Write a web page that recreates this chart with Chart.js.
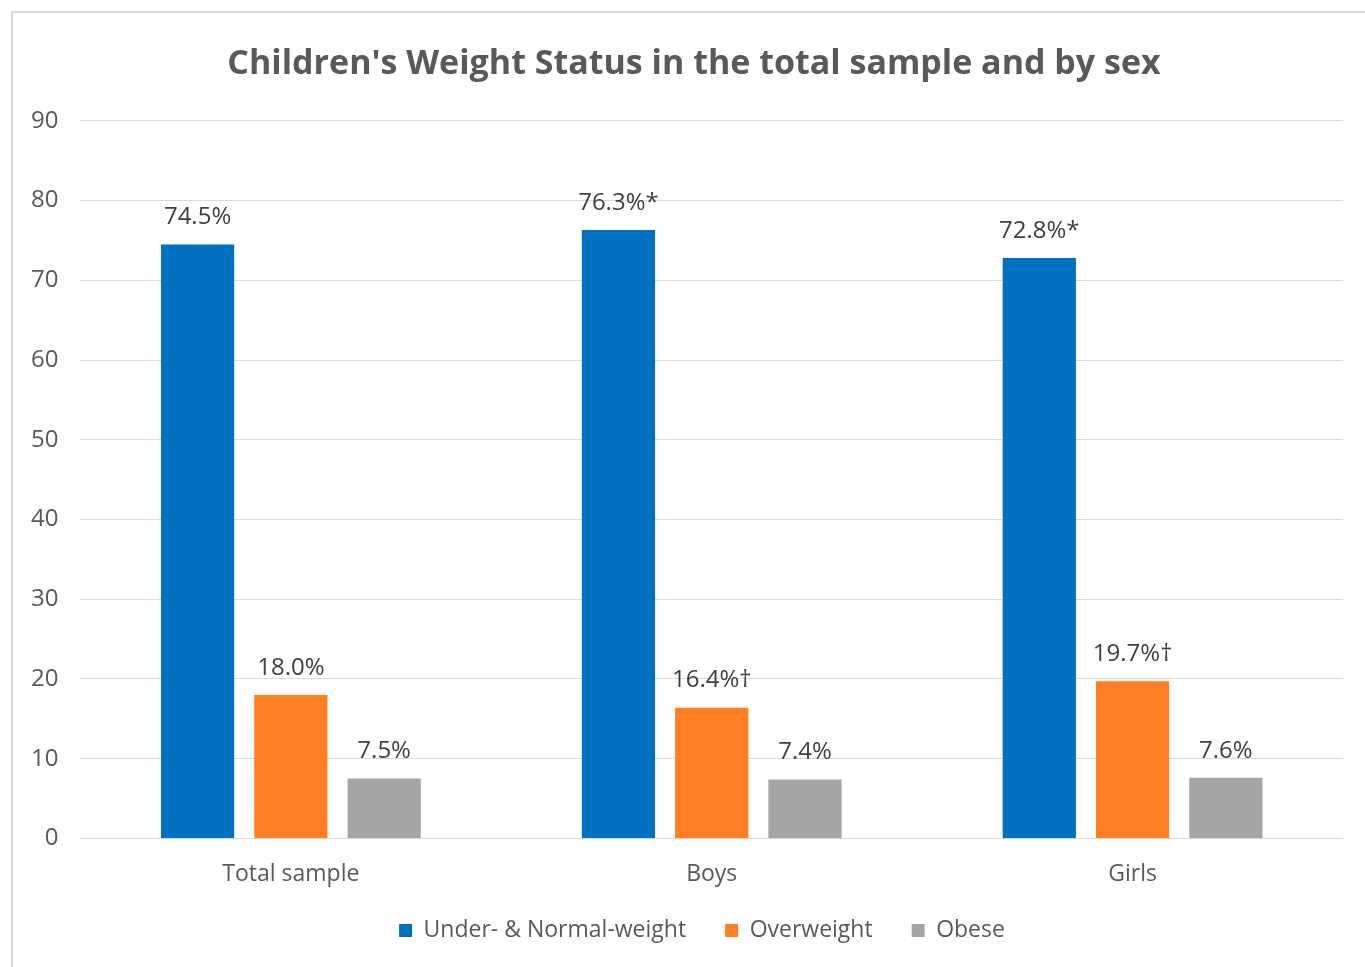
<!DOCTYPE html>
<html lang="en">
<head>
    <meta charset="UTF-8">
    <title>Children's Weight Status</title>
    <style>
        body {
            margin: 0;
            width: 1365px;
            height: 967px;
            overflow: hidden;
            background: #fff;
            font-family: "Open Sans", sans-serif;
        }
        #frame {
            position: absolute;
            left: 11px;
            top: 11px;
            width: 1400px;
            height: 1000px;
            border: 2px solid #d9d9d9;
        }
        #wrap {
            position: absolute;
            left: 0;
            top: 0;
            width: 1365px;
            height: 974px;
        }
    </style>
</head>
<body>

<div id="frame"></div>
<div id="wrap"><canvas id="weightChart"></canvas></div>

<script src="https://cdn.jsdelivr.net/npm/chart.js"></script>
<script>
    // Data
    const groups = ['Total sample', 'Boys', 'Girls'];
    const normalWeight = [74.5, 76.3, 72.8];
    const overweight = [18.0, 16.4, 19.7];
    const obese = [7.5, 7.4, 7.6];
    // significance marks printed after the percentages
    const normalMarks = ['', '*', '*'];
    const overweightMarks = ['', '\u2020', '\u2020'];
    const obeseMarks = ['', '', ''];
    const yTicks = [0, 10, 20, 30, 40, 50, 60, 70, 80, 90];

    const textGrey = '#595959';

    // draws the value labels above each bar
    const barLabels = {
        id: 'barLabels',
        afterDatasetsDraw(chart) {
            const ctx = chart.ctx;
            ctx.save();
            ctx.font = '24px "Open Sans"';
            ctx.fillStyle = '#404040';
            ctx.textAlign = 'center';
            ctx.textBaseline = 'middle';
            chart.data.datasets.forEach((ds, i) => {
                const meta = chart.getDatasetMeta(i);
                meta.data.forEach((bar, j) => {
                    const txt = ds.data[j].toFixed(1) + '%' + ds.marks[j];
                    ctx.fillText(txt, bar.x, bar.y - 27);
                });
            });
            ctx.restore();
        }
    };

    // the original centres title and legend a little right of the plot centre
    const nudgeBoxes = {
        id: 'nudgeBoxes',
        afterLayout(chart) {
            const lg = chart.legend;
            lg.left += 26; lg.right += 26;
            lg.top -= 22; lg.bottom -= 22;
            const tb = chart.titleBlock;
            tb.left += 18; tb.right += 18;
        }
    };

    const ctx = document.getElementById('weightChart').getContext('2d');
    new Chart(ctx, {
        type: 'bar',
        data: {
            labels: groups,
            datasets: [
                { label: 'Under- & Normal-weight', data: normalWeight, marks: normalMarks, backgroundColor: '#0070c0' },
                { label: 'Overweight', data: overweight, marks: overweightMarks, backgroundColor: '#ff7f22' },
                { label: 'Obese', data: obese, marks: obeseMarks, backgroundColor: '#a5a5a5' }
            ]
        },
        options: {
            responsive: true,
            maintainAspectRatio: false,
            animation: false,
            datasets: {
                bar: { categoryPercentage: 0.665, barPercentage: 0.785 }
            },
            layout: {
                padding: { left: 9, right: 22, top: 44, bottom: 0 }
            },
            scales: {
                x: {
                    grid: { display: false },
                    border: { display: false },
                    ticks: { color: textGrey, font: { size: 23, family: 'Open Sans' }, padding: 14 }
                },
                y: {
                    min: 0,
                    max: 90,
                    afterBuildTicks: (axis) => { axis.ticks = yTicks.map(v => ({ value: v })); },
                    grid: { color: '#d9d9d9', lineWidth: 1, drawTicks: false },
                    border: { display: false },
                    ticks: { color: textGrey, font: { size: 24, family: 'Open Sans' }, padding: 22 }
                }
            },
            plugins: {
                title: {
                    display: true,
                    text: "Children's Weight Status in the total sample and by sex",
                    color: textGrey,
                    font: { size: 34, weight: 'bold', family: 'Open Sans' },
                    padding: { top: 0, bottom: 36 }
                },
                legend: {
                    position: 'bottom',
                    labels: {
                        color: textGrey,
                        font: { size: 23, family: 'Open Sans' },
                        boxWidth: 13,
                        boxHeight: 13,
                        padding: 39
                    }
                },
                tooltip: { enabled: false }
            }
        },
        plugins: [barLabels, nudgeBoxes]
    });
</script>
</body>
</html>
